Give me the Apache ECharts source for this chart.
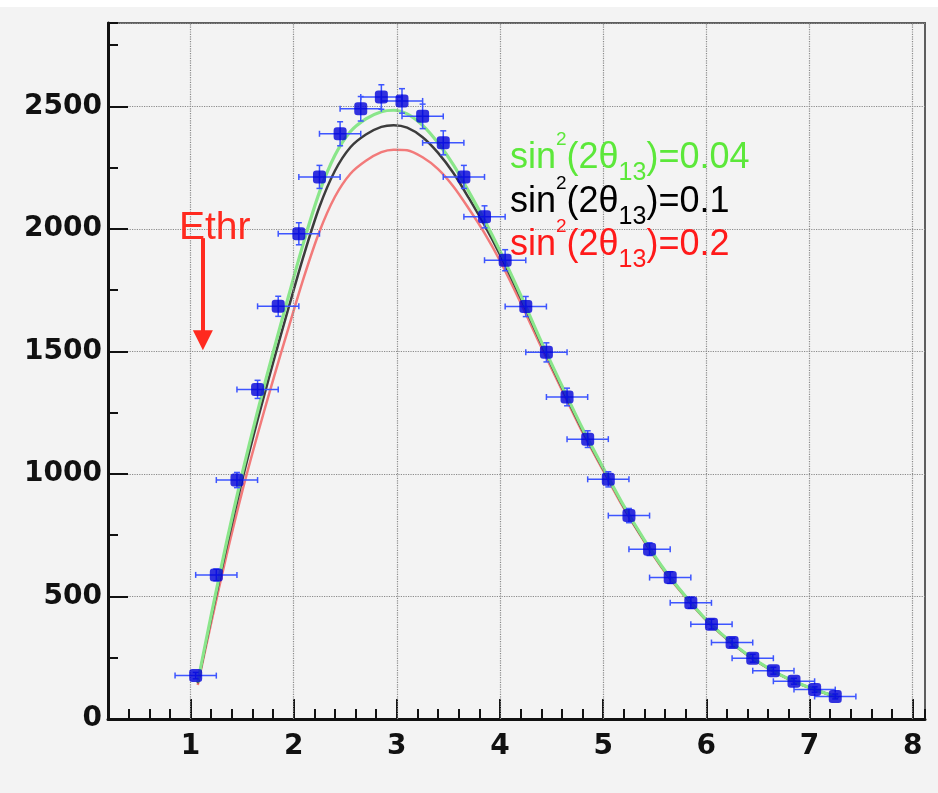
<!DOCTYPE html>
<html><head><meta charset="utf-8">
<script src="https://cdn.jsdelivr.net/npm/echarts@6/dist/echarts.min.js"></script>
<style>html,body{margin:0;padding:0;background:#f3f3f3;}#c{width:938px;height:793px;}</style>
</head><body><div id="c"></div>
<script>
// ---- data points (blue squares with error bars) ----
const pointX = [1.05,1.25,1.45,1.65,1.85,2.05,2.25,2.45,2.65,2.85,3.05,3.25,3.45,3.65,3.85,4.05,4.25,4.45,4.65,4.85,5.05,5.25,5.45,5.65,5.85,6.05,6.25,6.45,6.65,6.85,7.05,7.25];
const pointY = [177,588,975,1345,1684,1980,2212,2388,2490,2538,2522,2459,2351,2212,2049,1872,1683,1496,1314,1142,978,830,693,577,474,387,312,248,197,154,120,92];
const pointYErr = [13,24,31,37,41,45,47,49,50,50,50,50,49,47,45,43,41,39,36,34,31,29,26,24,22,20,18,16,14,12,11,10];
const pointXErr = 0.2;

// ---- fitted curves ----
const curveX = [1.07,1.2,1.35,1.5,1.65,1.8,1.95,2.1,2.25,2.4,2.55,2.7,2.85,2.97,3.1,3.25,3.4,3.55,3.7,3.85,4.0,4.2,4.4,4.6,4.8,5.0,5.2,5.4,5.6,5.8,6.0,6.2,6.4,6.6,6.8,7.0,7.15,7.28];
const curveGreen = [150,423,723,1000,1255,1495,1725,1950,2150,2300,2397,2449,2478,2484,2469,2422,2350,2260,2150,2035,1910,1730,1540,1360,1185,1025,870,730,605,500,405,328,262,208,163,128,106,88];
const curveBlack = [146,411,703,973,1220,1453,1677,1895,2090,2237,2333,2385,2416,2423,2413,2374,2310,2227,2124,2015,1895,1719,1532,1353,1179,1021,866,727,603,499,404,327,261,207,163,128,106,88];
const curveRed   = [139,392,670,927,1161,1383,1596,1804,1989,2131,2225,2278,2313,2323,2321,2292,2244,2172,2081,1983,1870,1699,1518,1343,1170,1014,860,723,599,496,402,325,260,206,162,127,105,87];

// ---- axes ----
const xTickValues = [1,2,3,4,5,6,7,8];
const xMin = 0.2, xMax = 8.12, xMinorStep = 0.2;
const yMin = 0, yMax = 2840, yMajorStep = 500, yMinorStep = 250;

// ---- annotations ----
const legendValues = ['0.04','0.1','0.2'];
const legendColors = ['#5ce83a','#000000','#ff1a1a'];
const ethrX = 1.12, ethrTop = 1962, ethrTip = 1545;

const pairs = (xs, ys) => xs.map((x, i) => [x, ys[i]]);
const errData = pointX.map((x, i) => [x, pointY[i], pointXErr, pointYErr[i]]);

const chart = echarts.init(document.getElementById('c'), null, {renderer: 'canvas'});

const labelFont = {color:'#111', fontSize:28, fontWeight:'bold', fontFamily:'DejaVu Sans'};

function legendText(i, top) {
  const c = legendColors[i];
  return {
    type: 'text', left: 510, top: top, z: 100,
    style: {
      text: '{n|sin}{sup|2}{n|(2θ}{sub|13}{n|)=' + legendValues[i] + '}',
      rich: {
        n:   {fontSize: 36, fontFamily: 'Liberation Sans', fill: c, lineHeight: 56},
        sup: {fontSize: 19, fontFamily: 'Liberation Sans', fill: c, lineHeight: 41, verticalAlign: 'top'},
        sub: {fontSize: 25, fontFamily: 'Liberation Sans', fill: c, lineHeight: 24, verticalAlign: 'bottom'}
      }
    }
  };
}

const option = {
  animation: false,
  backgroundColor: '#f3f3f3',
  grid: {left: 108, right: 13, top: 23, bottom: 74, show: true, borderColor: '#5e5e5e', borderWidth: 2, backgroundColor: 'transparent'},
  xAxis: [
    {type:'value', min:xMin, max:xMax, position:'bottom',
     axisLine:{show:true, onZero:false, lineStyle:{color:'#111', width:3}},
     axisTick:{show:true, inside:true, length:20, customValues:xTickValues, lineStyle:{color:'#111', width:2}},
     axisLabel:Object.assign({customValues:xTickValues, margin:14}, labelFont),
     splitLine:{show:false}},
    {type:'value', min:xMin, max:xMax, interval:xMinorStep, position:'bottom', offset:0,
     axisLine:{show:false}, axisTick:{show:true, inside:true, length:10, lineStyle:{color:'#111', width:2}},
     axisLabel:{show:false}, splitLine:{show:false}}
  ],
  yAxis: [
    {type:'value', min:yMin, max:yMax, interval:yMajorStep, position:'left',
     axisLine:{show:true, onZero:false, lineStyle:{color:'#111', width:3}},
     axisTick:{show:true, inside:true, length:20, lineStyle:{color:'#111', width:2}},
     axisLabel:Object.assign({margin:6, showMaxLabel:false, formatter: v => (v % yMajorStep === 0 ? String(v) : '')}, labelFont),
     splitLine:{show:true, lineStyle:{color:'#8a8a8a', width:1.2, type:'dotted'}}},
    {type:'value', min:yMin, max:yMax, interval:yMinorStep, position:'left', offset:0,
     axisLine:{show:false}, axisTick:{show:true, inside:true, length:10, lineStyle:{color:'#111', width:2}},
     axisLabel:{show:false}, splitLine:{show:false}}
  ],
  series: [
    {type:'line', name:'grid', data:[], z:0, silent:true,
     markLine:{silent:true, symbol:['none','none'], label:{show:false},
       lineStyle:{color:'#8a8a8a', width:1.2, type:'dotted'},
       data: xTickValues.map(v => ({xAxis: v}))}},
    {type:'line', name:'red', data:pairs(curveX, curveRed), showSymbol:false, smooth:0.3, z:2,
     lineStyle:{color:'#f27a7a', width:2.5}},
    {type:'line', name:'black', data:pairs(curveX, curveBlack), showSymbol:false, smooth:0.3, z:3,
     lineStyle:{color:'#3c3c3c', width:2.5}},
    {type:'line', name:'green', data:pairs(curveX, curveGreen), showSymbol:false, smooth:0.3, z:4,
     lineStyle:{color:'#8ae68a', width:3.2},
     markLine:{silent:true, symbol:['none','triangle'], symbolSize:20, label:{show:false},
       lineStyle:{color:'#ff2a1f', width:4, type:'solid'},
       itemStyle:{color:'#ff2a1f'},
       data:[[{coord:[ethrX, ethrTop]}, {coord:[ethrX, ethrTip]}]]}},
    {type:'custom', name:'err', data:errData, z:5, silent:true,
     renderItem: function(params, api) {
       const x = api.value(0), y = api.value(1), ex = api.value(2), ey = api.value(3);
       const h0 = api.coord([x-ex, y]), h1 = api.coord([x+ex, y]);
       const v0 = api.coord([x, y-ey]), v1 = api.coord([x, y+ey]);
       const st = {stroke:'#3d55ff', lineWidth:1.5};
       const c = 3;
       return {type:'group', children:[
         {type:'line', shape:{x1:h0[0], y1:h0[1], x2:h1[0], y2:h1[1]}, style:st},
         {type:'line', shape:{x1:v0[0], y1:v0[1], x2:v1[0], y2:v1[1]}, style:st},
         {type:'line', shape:{x1:h0[0], y1:h0[1]-c, x2:h0[0], y2:h0[1]+c}, style:st},
         {type:'line', shape:{x1:h1[0], y1:h1[1]-c, x2:h1[0], y2:h1[1]+c}, style:st},
         {type:'line', shape:{x1:v0[0]-c, y1:v0[1], x2:v0[0]+c, y2:v0[1]}, style:st},
         {type:'line', shape:{x1:v1[0]-c, y1:v1[1], x2:v1[0]+c, y2:v1[1]}, style:st}
       ]};
     }},
    {type:'scatter', name:'data', data:pairs(pointX, pointY), symbol:'roundRect', symbolSize:13, z:6,
     itemStyle:{color:'#0000d8'}}
  ],
  graphic: [
    {type:'rect', left:0, top:0, z:-1, shape:{width:938, height:7}, style:{fill:'#ffffff'}},
    legendText(0, 130),
    legendText(1, 174),
    legendText(2, 217),
    {type:'text', left:179, top:209, z:100,
     style:{text:'Ethr', fontSize:39, fontFamily:'Liberation Sans', fill:'#ff2a1f'}}
  ]
};
chart.setOption(option);
</script>
</body></html>
